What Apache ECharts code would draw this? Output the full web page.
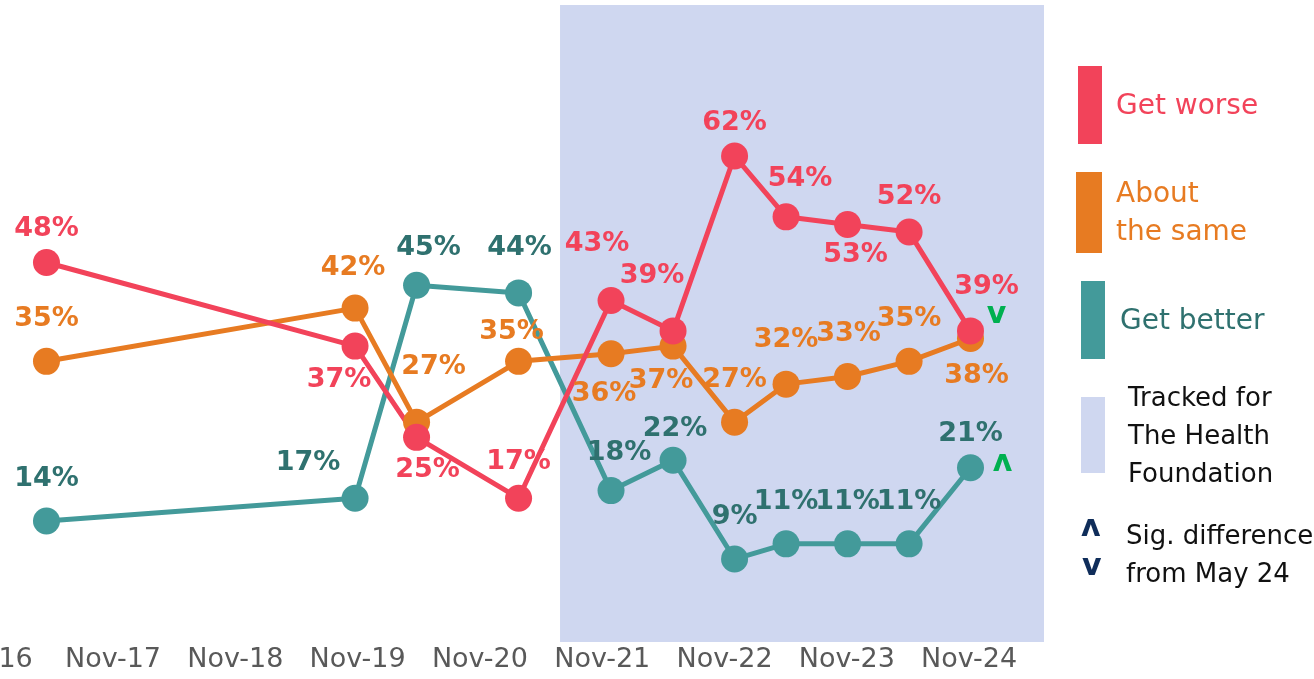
<!DOCTYPE html>
<html>
<head>
<meta charset="utf-8">
<script src="https://cdn.jsdelivr.net/npm/echarts@6/dist/echarts.min.js"></script>
<style>
  html, body { margin: 0; padding: 0; background: #fff; }
  #chart { width: 1314px; height: 679px; }
</style>
</head>
<body>
<div id="chart"></div>
<script>
// survey waves, in years (17 = Nov-17)
const waves = [16.456, 18.979, 19.482, 20.316, 21.072, 21.579, 22.082, 22.503, 23.006, 23.509, 24.011]
const getWorse = [48, 37, 25, 17, 43, 39, 62, 54, 53, 52, 39]
const aboutSame = [35, 42, 27, 35, 36, 37, 27, 32, 33, 35, 38]
const getBetter = [14, 17, 45, 44, 18, 22, 9, 11, 11, 11, 21]
const tickYears = [16, 17, 18, 19, 20, 21, 22, 23, 24]
const trackedFrom = 20.655
const trackedTo = 24.612

// label offsets from the point centre
const worseOffsets = [[0, -33], [-16, 34], [11, 33], [0, -36], [-14, -57], [-21, -55], [0, -33], [14, -38], [8, 31], [0, -35], [16, -44]]
const sameOffsets = [[0, -42], [-2, -40], [17, -55], [-7, -29], [-7, 40], [-12, 35], [0, -42], [0, -44], [1, -43], [0, -42], [6, 37]]
const betterOffsets = [[0, -42], [-47, -35], [12, -37], [1, -45], [8, -38], [2, -31], [0, -42], [0, -42], [0, -42], [0, -42], [0, -34]]

const FONT = 'DejaVu Sans'
const RED = '#f2435a'
const ORANGE = '#e77b22'
const TEAL = '#439a9a'
const TEAL_TEXT = '#2f716f'
const LAVENDER = '#cfd7f0'
const GREEN = '#00b050'
const NAVY = '#0f2d5a'

const makeData = (values, offsets) =>
  values.map((v, i) => ({
    value: [waves[i], v],
    label: { offset: offsets[i] },
  }))

const lineSeries = (name, values, offsets, color, textColor) => ({
  name,
  type: 'line',
  data: makeData(values, offsets),
  symbol: 'circle',
  symbolSize: 27,
  lineStyle: { color, width: 5 },
  itemStyle: { color },
  label: {
    show: true,
    position: 'inside',
    formatter: (p) => p.value[1] + '%',
    color: textColor,
    fontFamily: FONT,
    fontWeight: 'bold',
    fontSize: 27,
  },
  emphasis: { disabled: true },
})

const last = waves.length - 1

const better = lineSeries('Get better', getBetter, betterOffsets, TEAL, TEAL_TEXT)
better.markArea = {
  silent: true,
  itemStyle: { color: LAVENDER },
  data: [[{ xAxis: trackedFrom }, { xAxis: trackedTo }]],
}
better.markPoint = {
  silent: true,
  symbol: 'circle',
  symbolSize: 0,
  data: [{ coord: [waves[last], getBetter[last]] }],
  label: {
    show: true,
    formatter: 'ʌ',
    color: GREEN,
    fontFamily: FONT,
    fontWeight: 'bold',
    fontSize: 30,
    offset: [32, -5],
  },
}

const same = lineSeries('About the same', aboutSame, sameOffsets, ORANGE, ORANGE)

const worse = lineSeries('Get worse', getWorse, worseOffsets, RED, RED)
worse.markPoint = {
  silent: true,
  symbol: 'circle',
  symbolSize: 0,
  data: [{ coord: [waves[last], getWorse[last]] }],
  label: {
    show: true,
    formatter: 'v',
    color: GREEN,
    fontFamily: FONT,
    fontWeight: 'bold',
    fontSize: 30,
    offset: [26, -16],
  },
}

const legendText = (left, top, text, color, size) => ({
  type: 'text',
  left,
  top,
  style: {
    text,
    fill: color,
    font: size + 'px "' + FONT + '"',
    lineHeight: 38,
  },
})

const chart = echarts.init(document.getElementById('chart'))
chart.setOption({
  animation: false,
  grid: { left: -9.3, right: 270, top: 5, bottom: 37, containLabel: false, outerBoundsMode: 'none' },
  xAxis: {
    type: 'value',
    min: tickYears[0],
    max: trackedTo,
    interval: 1,
    axisLine: { show: false },
    axisTick: { show: false },
    splitLine: { show: false },
    axisLabel: {
      color: '#595959',
      fontFamily: FONT,
      fontSize: 27,
      margin: 4,
      showMinLabel: true,
      showMaxLabel: false,
      hideOverlap: false,
      formatter: (v) => {
        if (!tickYears.includes(v)) return ''
        // first label sits half off the left edge
        return v === tickYears[0] ? '{first|Nov-' + v + '}' : 'Nov-' + v
      },
      rich: {
        first: {
          color: '#595959',
          fontFamily: FONT,
          fontSize: 27,
          padding: [0, 12, 0, 0],
        },
      },
    },
  },
  yAxis: {
    type: 'value',
    show: false,
    min: -1.91,
    max: 81.86,
    splitLine: { show: false },
  },
  series: [better, same, worse],
  graphic: [
    { type: 'rect', shape: { x: 1078, y: 66, width: 24, height: 78 }, style: { fill: RED } },
    { type: 'rect', shape: { x: 1076, y: 172, width: 26, height: 81 }, style: { fill: ORANGE } },
    { type: 'rect', shape: { x: 1081, y: 281, width: 24, height: 78 }, style: { fill: TEAL } },
    { type: 'rect', shape: { x: 1081, y: 397, width: 24, height: 76 }, style: { fill: LAVENDER } },
    legendText(1116, 88, 'Get worse', RED, 28),
    legendText(1116, 176, 'About\nthe same', ORANGE, 28),
    legendText(1120, 303, 'Get better', TEAL_TEXT, 28),
    legendText(1128, 380, 'Tracked for\nThe Health\nFoundation', '#111111', 26),
    {
      type: 'text', left: 1081, top: 513,
      style: { text: 'ʌ', fill: NAVY, font: 'bold 30px "' + FONT + '"' },
    },
    {
      type: 'text', left: 1082, top: 552,
      style: { text: 'v', fill: NAVY, font: 'bold 30px "' + FONT + '"' },
    },
    legendText(1126, 518, 'Sig. difference\nfrom May 24', '#111111', 26),
  ],
})
</script>
</body>
</html>
